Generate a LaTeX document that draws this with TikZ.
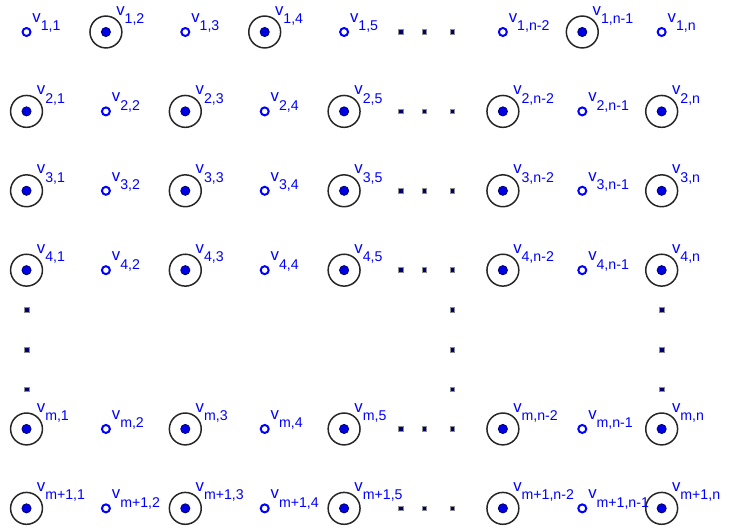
\documentclass[tikz,border=0pt]{standalone}
\usepackage{fontspec}
\setmainfont{Liberation Sans}
\usetikzlibrary{positioning}
\definecolor{ggblue}{RGB}{0,0,255}
\definecolor{ggnavy}{RGB}{0,0,110}
\newcommand{\vlab}[1]{v\raisebox{-4.3pt}{\fontsize{7.1}{8}\selectfont #1}}
\tikzset{
	openv/.style={circle, draw=ggblue, fill=white, line width=1pt, minimum size=4pt, inner sep=0pt},
	fullv/.style={circle, draw=ggnavy, fill=ggblue!90!black, line width=0.4pt, minimum size=4.6pt, inner sep=0pt},
	ring/.style={circle, draw=black!85, line width=0.75pt, minimum size=16pt, inner sep=0pt},
	dotsq/.style={rectangle, draw=black!45, fill=ggnavy, line width=0.35pt, minimum size=2.4pt, inner sep=0pt},
	lab/.style={anchor=base west, inner sep=0pt, text=ggblue, font=\fontsize{8.4}{9}\selectfont}
}

\begin{document}
\begin{tikzpicture}[x=1.4cm, y=1.4cm]
	\useasboundingbox (-0.334,0.403) rectangle (8.848,-6.285);
	
	% ==========================================
	% ROW 1: odd columns open, even columns ringed
	% ==========================================
	\foreach \c/\cn in {0/1,2/3,4/5,6/n-2,8/n} {
		\node[openv] (v0-\c) at (\c,0) {};
		\node[lab] (l0-\c) at ([shift={(2.8pt,5pt)}]v0-\c.center) {\vlab{1,\cn}};
	}
	\foreach \c/\cn in {1/2,3/4,7/n-1} {
		\node[ring] (r0-\c) at (\c,0) {};
		\node[fullv] (v0-\c) at (r0-\c.center) {};
		\node[lab] (l0-\c) at ([shift={(5pt,8.5pt)}]v0-\c.center) {\vlab{1,\cn}};
	}
	
	% ==========================================
	% ROWS 2 .. m+1: odd columns ringed, even columns open
	% ==========================================
	\foreach \r/\rn in {1/2,2/3,3/4,5/m,6/m+1} {
		\foreach \c/\cn in {0/1,2/3,4/5,6/n-2,8/n} {
			\node[ring] (r\r-\c) at (\c,-\r) {};
			\node[fullv] (v\r-\c) at (r\r-\c.center) {};
			\node[lab] (l\r-\c) at ([shift={(5pt,8.5pt)}]v\r-\c.center) {\vlab{\rn,\cn}};
		}
		\foreach \c/\cn in {1/2,3/4,7/n-1} {
			\node[openv] (v\r-\c) at (\c,-\r) {};
			\node[lab] (l\r-\c) at ([shift={(2.8pt,4.8pt)}]v\r-\c.center) {\vlab{\rn,\cn}};
		}
	}
	
	% --- horizontal dots ---
	\foreach \r in {0,1,2,3,5,6}
		\foreach \d [count=\k] in {4.713,5.01,5.363} \node[dotsq] (h\r-\k) at (\d,-\r) {};
	
	% --- vertical dots ---
	\foreach \x [count=\i] in {0,5.363,8}
		\foreach \y [count=\k] in {3.5,4,4.5} \node[dotsq] (d\i-\k) at (\x,-\y) {};
	
\end{tikzpicture}
\end{document}
